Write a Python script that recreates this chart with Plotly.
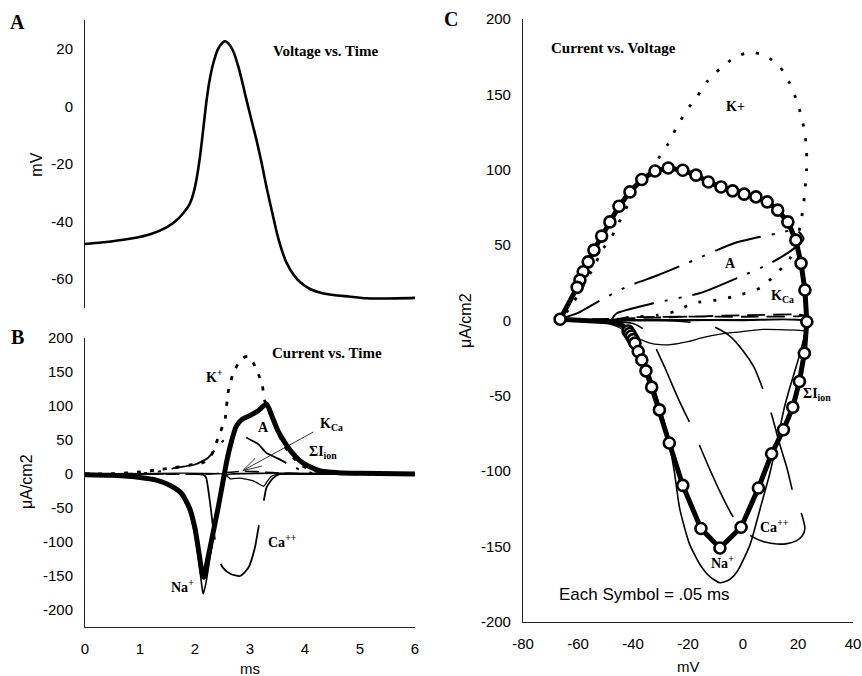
import plotly.graph_objects as go

# ---------------- Panel A: voltage vs time ----------------
t_volt = [0, 0.5, 0.87, 1.2, 1.49, 1.65, 1.79, 1.9, 1.97, 2.03, 2.09, 2.15, 2.21, 2.27, 2.33,
          2.42, 2.51, 2.545, 2.6, 2.69, 2.8, 2.94, 3.03, 3.12, 3.21, 3.3, 3.4, 3.49, 3.58, 3.67,
          3.8, 3.91, 4.1, 4.3, 4.52, 4.8, 5.12, 5.5, 6.0]
v_mv = [-47.8, -46.8, -45.8, -44.3, -41.9, -39.8, -37.0, -34.0, -30.3, -25.0, -17.6, -8.0, 2.0,
        9.5, 14.8, 20.0, 22.3, 22.6, 22.0, 19.4, 13.0, 2.0, -5.0, -11.8, -19.5, -28.0, -36.5,
        -44.0, -50.0, -54.5, -58.6, -61.0, -63.5, -64.8, -65.5, -66.0, -66.6, -66.7, -66.5]

# ---------------- Panel B: currents vs time ----------------
t_sum = [0, 0.5, 1.0, 1.3, 1.55, 1.75, 1.9, 2.0, 2.08, 2.14, 2.16, 2.22, 2.32, 2.42, 2.5, 2.58,
         2.67, 2.75, 2.85, 3.0, 3.15, 3.3, 3.4, 3.5, 3.62, 3.75, 3.9, 4.05, 4.3, 4.6, 5.0, 6.0]
i_sum = [-1, -2, -5, -9, -17, -28, -50, -80, -120, -150, -152, -130, -90, -50, -15, 20,
         50, 70, 80, 86, 93, 103, 85, 65, 48, 33, 20, 12, 4, 2, 1, 0]

t_na = [0, 0.5, 1.0, 1.3, 1.55, 1.75, 1.9, 2.0, 2.08, 2.13, 2.15, 2.2, 2.27, 2.35, 2.43, 2.5,
        2.57, 2.65, 6.0]
i_na = [0, -1, -5, -10, -19, -32, -56, -90, -135, -168, -176, -160, -125, -85, -45, -15,
        -2, 0, 0]

t_k = [0, 0.5, 1.0, 1.3, 1.6, 1.9, 2.15, 2.3, 2.42, 2.5, 2.55, 2.6, 2.69, 2.79, 2.88, 2.97,
       3.05, 3.13, 3.22, 3.27, 3.33, 3.4, 3.5, 3.62, 3.78, 3.95, 4.15, 4.5, 5.0, 6.0]
i_k = [0, 0.5, 3, 6, 9, 13, 17, 28, 53, 70, 82, 119, 147, 163, 171, 173,
       165, 151, 132, 107, 95, 82, 62, 42, 25, 12, 5, 1.5, 0, 0]

t_a = [0, 0.8, 1.2, 1.45, 1.64, 2.0, 2.24, 2.42, 2.57, 2.75, 2.9, 3.04, 3.15, 3.25, 3.3,
       3.45, 3.6, 3.8, 3.97, 4.2, 4.6, 6.0]
i_a = [0, 0.5, 2, 5, 9, 14, 24, 41, 53, 59, 55, 49, 44, 35, 31, 25, 19, 10, 4.4, 1, 0, 0]

t_kca = [0, 2.3, 2.45, 2.7, 2.9, 3.1, 3.4, 3.7, 4.2, 6.0]
i_kca = [0, 0, 1, 3, 4, 3.5, 2, 1, 0, 0]

t_ca = [0, 1.0, 2.0, 2.15, 2.2, 2.27, 2.33, 2.38, 2.42, 2.51, 2.65, 2.82, 2.97, 3.09, 3.15,
        3.2, 3.24, 3.3, 3.42, 3.55, 4.0, 6.0]
i_ca = [0, 0, 0, -1, -5, -40, -79, -105, -123, -138, -147, -150, -138, -108, -81,
        -60, -45, -20, -6, 0, 0, 0]

t_other = [0, 2.5, 2.58, 2.64, 2.82, 2.95, 3.06, 3.15, 3.25, 3.32, 3.4, 3.5, 4.0, 6.0]
i_other = [0, 0, -3, -7, -6, -8, -10, -14, -18, -10, -3, -0.5, 0, 0]

# ---------------- Panel C: currents vs voltage ----------------
# slow pre-spike drift of the summed current (no symbols visible there)
sum_pre_v = [-47.8, -46.5, -45.2, -44.0, -43.0, -42.3]
sum_pre_i = [-1.0, -1.5, -2.2, -3.2, -4.5, -5.8]
# summed ionic current, one symbol every 0.05 ms
sum_v = [-41.8, -41.2, -40.6, -39.9, -39.3, -38.1, -36.8, -35.3, -33.2, -30.4, -26.8, -21.9,
         -15.3, -8.4, -0.7, 5.6, 10.4, 14.7, 18.1, 20.5, 22.3, 23.2, 22.5, 21.1, 19.2, 16.3,
         12.6, 8.8, 4.7, 0.4, -3.8, -8.0, -12.6, -17.1, -21.9, -27.2, -32.0, -36.8, -41.1,
         -45.1, -48.4, -51.4, -54.2, -56.3, -58.1, -59.3, -60.3, -66.5]
sum_i = [-7.0, -8.6, -10.5, -12.7, -15.0, -20.6, -26.2, -33.4, -44.2, -59.3, -81.3, -109.4,
         -138.0, -150.9, -137.2, -111.1, -88.4, -72.5, -57.5, -40.5, -21.7, -0.8, 20.2, 37.9,
         53.3, 65.4, 73.2, 78.7, 82.0, 83.8, 86.0, 88.6, 91.9, 96.4, 99.7, 101.2, 99.2, 93.5,
         85.3, 75.8, 65.4, 56.0, 46.7, 38.9, 32.3, 26.8, 22.0, 0.8]

na_v = [-48, -44, -42.3, -39, -36.3, -33.5, -31.4, -29, -27, -25, -23, -19.5, -15.6, -12,
        -8.4, -5, -2.3, 2.5, 6.2, 9.8, 13, 15, 17.1, 20.7, 23.2, 23, 0, -30, -66.5]
na_i = [-1, -3, -6, -15, -26, -38, -50, -65, -80, -100, -125, -148, -162, -170,
        -174, -172, -167, -149, -125, -101, -75, -58, -44, -22, -2, 0, 0.5, 0.5, 0.5]

k_v = [-48, -43, -38, -31, -25, -18, -9.6, -3.6, 6.2, 11, 17, 19.5, 20.7, 21.9, 22.5, 23.1,
       23.1, 22.5, 21.3, 19.5, 17.1, 13.5, 8, 2.5, -2.9, -8.4, -13.2, -16.8, -20.5, -24.1,
       -27.2, -30.8, -33.8, -37.5, -40.5, -43.5, -45.9, -48.4, -50.8, -55, -60, -63.5, -66.5]
k_i = [0, 1.5, 2.5, 3.6, 5.8, 11.5, 13.6, 15.8, 21.5, 29, 41, 52, 62, 75.4, 86.4, 99.7,
       113, 124, 135, 146, 157, 168, 175.8, 178, 174.7, 167, 158.1, 148.2, 139.4, 128.3,
       117.3, 107.4, 99.7, 89.7, 80.9, 71, 62.1, 53.3, 47.8, 33, 17, 7, 1]

a_v = [-48, -45.9, -32.6, -15.6, -1.1, 10, 18, 22, 19.5, 12.3, 5, -3.5, -20.5, -31, -42.3,
       -53.8, -60, -66.5]
a_i = [0, 4.8, 11.4, 18.2, 29, 38, 47, 54, 60, 57.7, 55, 51.1, 37.9, 30, 22.4,
       11.4, 5, 1]

kca_v = [-48, -42, -20, 0, 20, 22.5, 20, 0, -30, -50, -66.5]
kca_i = [0, 2, 2.5, 2.5, 2.8, 3.5, 4, 3.5, 2, 1, 0.5]

ca_v = [-48, -30, -20, -12, -5, 0, 4, 7.3, 9, 10.5, 13, 16, 18, 19.5, 21.3, 22.5, 21.5, 19.5,
        16, 12.3, 8, 3.6, 0, -4, -8, -12.5, -16.7, -18.5, -20.4, -24, -28, -31, -33, -36,
        -40, -50, -66.5]
ca_i = [0, 0, -1, -3, -10, -20, -31, -46, -55, -63, -80, -98, -113, -122, -128.5, -138,
        -143, -146, -148, -148.3, -147, -143.7, -139, -129, -115, -97, -79, -71, -64, -50,
        -33, -21, -13, -6, -2, -0.5, 0]

other_v = [-48, -20, 0, 22, 23.3, 20.7, 13, 6.2, -1, -8.4, -15, -20, -26.5, -30, -33.8,
           -38, -42, -45.8, -50, -66.5]
other_i = [0, 0, 0, -0.5, -7, -6.5, -6, -6, -7.5, -9, -11.5, -14, -16, -16, -15,
           -12, -8, -4, -1.5, 0]

# tick values and their printed labels (plain hyphen for negatives)
ticks_mv_a = [-60, -40, -20, 0, 20]
ticks_ms = [0, 1, 2, 3, 4, 5, 6]
ticks_ua = [-200, -150, -100, -50, 0, 50, 100, 150, 200]
ticks_mv_c = [-80, -60, -40, -20, 0, 20, 40]

BLACK = "black"
fig = go.Figure()


def curve(x, y, axes, width=1.5, dash="solid", shape="spline", smoothing=0.6):
    fig.add_trace(go.Scatter(
        x=x, y=y, mode="lines", xaxis=axes[0], yaxis=axes[1], hoverinfo="skip",
        line=dict(color=BLACK, width=width, dash=dash, shape=shape,
                  smoothing=smoothing if shape == "spline" else None)))


# Panel A
curve(t_volt, v_mv, ("x", "y"), width=2.6)

# Panel B
B = ("x2", "y2")
curve(t_other, i_other, B, width=1.3)
curve(t_kca, i_kca, B, width=1.6, dash="14px,6px")
curve(t_a, i_a, B, width=1.8, dash="48px,11px,3px,11px,3px,11px")
curve(t_k, i_k, B, width=2.8, dash="4px,9px")
curve(t_ca, i_ca, B, width=1.8, dash="80px,25px")
curve(t_na, i_na, B, width=1.6)
curve(t_sum, i_sum, B, width=5)

# Panel C
C = ("x3", "y3")
curve(other_v, other_i, C, width=1.3)
curve(kca_v, kca_i, C, width=1.8, dash="18px,8px")
curve(a_v, a_i, C, width=2, dash="48px,11px,3px,11px,3px,11px")
curve(k_v, k_i, C, width=2.8, dash="3px,12px")
curve(ca_v, ca_i, C, width=1.6, dash="80px,25px")
curve(na_v, na_i, C, width=1.6)
loop_v = sum_pre_v + sum_v + sum_pre_v[:1]
loop_i = sum_pre_i + sum_i + sum_pre_i[:1]
curve(loop_v, loop_i, C, width=5, shape="linear")
fig.add_trace(go.Scatter(
    x=sum_v, y=sum_i, mode="markers", xaxis="x3", yaxis="y3", hoverinfo="skip",
    marker=dict(symbol="circle", size=11, color="white", line=dict(color=BLACK, width=2.6))))

tickfont = dict(family="Liberation Sans, Arial, sans-serif", size=15, color=BLACK)
ax_common = dict(showgrid=False, zeroline=False, showline=True, linecolor="#222",
                 linewidth=1, ticks="", tickfont=tickfont, ticklabelstandoff=8,
                 automargin=False)


def tick_text(vals):
    return [str(v) for v in vals]


fig.update_layout(
    width=862, height=676, autosize=False,
    margin=dict(l=0, r=0, t=0, b=0, pad=0, autoexpand=False),
    plot_bgcolor="white", paper_bgcolor="white", showlegend=False,
    xaxis=dict(domain=[0.0986, 0.4814], range=[0, 6], visible=False),
    yaxis=dict(domain=[0.5444, 0.9704], range=[-70, 30], tickvals=ticks_mv_a,
               ticktext=tick_text(ticks_mv_a), anchor="x", **ax_common),
    xaxis2=dict(domain=[0.0986, 0.4814], range=[0, 6], tickvals=ticks_ms,
                ticktext=tick_text(ticks_ms), anchor="y2", **ax_common),
    yaxis2=dict(domain=[0.0725, 0.5000], range=[-225, 200], tickvals=ticks_ua,
                ticktext=tick_text(ticks_ua), anchor="x2", **ax_common),
    xaxis3=dict(domain=[0.6067, 0.9896], range=[-80, 40], tickvals=ticks_mv_c,
                ticktext=tick_text(ticks_mv_c), anchor="y3", **ax_common),
    yaxis3=dict(domain=[0.0799, 0.9719], range=[-200, 200], tickvals=ticks_ua,
                ticktext=tick_text(ticks_ua), anchor="x3", **ax_common),
)

SERIF = "Liberation Serif, Times New Roman, serif"
SANS = "Liberation Sans, Arial, sans-serif"
ann = []


def label(text, x, y, xref, yref, size=14, family=SERIF, xanchor="center", angle=0):
    ann.append(dict(text=text, x=x, y=y, xref=xref, yref=yref, showarrow=False,
                    xanchor=xanchor, yanchor="middle", textangle=angle,
                    font=dict(family=family, size=size, color=BLACK)))


# panel letters
label("<b>A</b>", 17.5 / 862, 1 - 22 / 676, "paper", "paper", size=20)
label("<b>B</b>", 17.5 / 862, 1 - 337 / 676, "paper", "paper", size=20)
label("<b>C</b>", 450.5 / 862, 1 - 18.5 / 676, "paper", "paper", size=20)

# axis titles
label("mV", 36.7 / 862, 1 - 165 / 676, "paper", "paper", size=16, family=SANS, angle=-90)
label("μA/cm2", 26 / 862, 1 - 482 / 676, "paper", "paper", size=16, family=SANS, angle=-90)
label("μA/cm2", 465 / 862, 1 - 320 / 676, "paper", "paper", size=16, family=SANS, angle=-90)
label("ms", 250 / 862, 1 - 668 / 676, "paper", "paper", size=15, family=SANS)
label("mV", 688 / 862, 1 - 666 / 676, "paper", "paper", size=15, family=SANS)

# panel headings
label("<b>Voltage vs. Time</b>", 3.39, 19.4, "x", "y", size=15, xanchor="left")
label("<b>Current vs. Time</b>", 3.36, 178, "x2", "y2", size=15, xanchor="left")
label("<b>Current vs. Voltage</b>", -70.4, 181, "x3", "y3", size=15, xanchor="left")

# current labels, panel B
label("<b>K<sup>+</sup></b>", 2.35, 144, "x2", "y2")
label("<b>A</b>", 3.24, 68, "x2", "y2")
label("<b>K<sub>Ca</sub></b>", 4.48, 73, "x2", "y2")
label("<b>ΣI<sub>ion</sub></b>", 4.32, 32, "x2", "y2")
label("<b>Ca<sup>++</sup></b>", 3.6, -98, "x2", "y2")
label("<b>Na<sup>+</sup></b>", 1.77, -165, "x2", "y2")

# current labels, panel C
label("<b>K+</b>", -2.9, 142, "x3", "y3")
label("<b>A</b>", -4.7, 37.9, "x3", "y3")
label("<b>K<sub>Ca</sub></b>", 14.2, 15.8, "x3", "y3")
label("<b>ΣI<sub>ion</sub></b>", 27, -49, "x3", "y3")
label("<b>Ca<sup>++</sup></b>", 11.6, -136.5, "x3", "y3")
label("<b>Na<sup>+</sup></b>", -7.5, -160, "x3", "y3")
label("Each Symbol = .05 ms", -67.7, -181.8, "x3", "y3", size=17, family=SANS, xanchor="left")

# pointer lines in panel B
for tail_x, tail_y in [(4.18, 63), (3.12, 25), (3.24, 12)]:
    ann.append(dict(x=2.87, y=5, ax=tail_x, ay=tail_y, xref="x2", yref="y2",
                    axref="x2", ayref="y2", text="", showarrow=True, arrowhead=0,
                    arrowwidth=0.8, arrowcolor=BLACK))

fig.update_layout(annotations=ann)
fig.write_html("out.html")
